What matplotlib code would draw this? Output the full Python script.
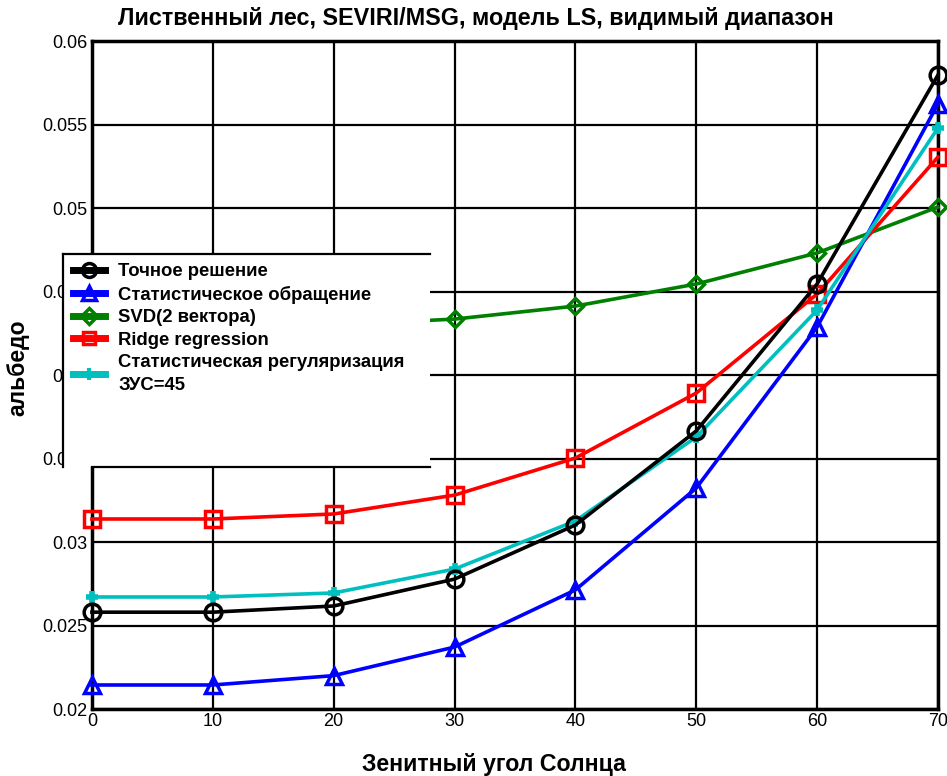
import numpy as np
import matplotlib.pyplot as plt
from matplotlib.patches import Rectangle
from matplotlib.lines import Line2D

plt.rcParams['font.family'] = ['Liberation Sans', 'DejaVu Sans']

# зенитный угол Солнца, градусы
sza = [0, 10, 20, 30, 40, 50, 60, 70]

exact = [0.0258, 0.0258, 0.02617, 0.02778, 0.03102, 0.03665, 0.04545, 0.05796]
stat_inv = [0.02144, 0.02144, 0.0220, 0.02371, 0.02713, 0.03323, 0.04287, 0.05623]
svd2 = [0.0427, 0.0428, 0.0430, 0.04335, 0.04413, 0.04545, 0.04731, 0.05006]
ridge = [0.03138, 0.03138, 0.03168, 0.03281, 0.03503, 0.03892, 0.04485, 0.05305]
stat_reg = [0.02671, 0.02671, 0.02695, 0.02838, 0.03126, 0.03629, 0.04389, 0.05479]

labels = ['Точное решение', 'Статистическое обращение', 'SVD(2 вектора)',
          'Ridge regression', 'Статистическая регуляризация\nЗУС=45']

xticks = [0, 10, 20, 30, 40, 50, 60, 70]
yticks = [0.02, 0.025, 0.03, 0.035, 0.04, 0.045, 0.05, 0.055, 0.06]

fig = plt.figure(figsize=(9.47, 7.76), dpi=100)
ax = fig.add_axes([0.0971, 0.0863, 0.8933, 0.8608])

ax.plot(sza, exact, color='black', lw=2.6, marker='o', ms=12, mfc='none', mew=2.5, clip_on=False, zorder=5)
ax.plot(sza, stat_inv, color='#0000ff', lw=2.6, marker='^', ms=11, mfc='none', mew=2.5, clip_on=False, zorder=4)
ax.plot(sza, svd2, color='#007f00', lw=2.6, marker='D', ms=8, mfc='none', mew=2.5, clip_on=False, zorder=3)
ax.plot(sza, ridge, color='#ff0000', lw=2.6, marker='s', ms=11, mfc='none', mew=2.5, clip_on=False, zorder=3)
ax.plot(sza, stat_reg, color='#00bfbf', lw=2.6, marker='+', ms=9, mew=4, clip_on=False, zorder=4)

ax.set_xlim(0, 70)
ax.set_ylim(0.02, 0.06)
ax.set_xticks(xticks)
ax.set_yticks(yticks)
ax.set_xticklabels([str(v) for v in xticks])
ax.set_yticklabels([f'{v:g}' for v in yticks])
ax.tick_params(labelsize=13, length=0, pad=3)
ax.grid(True, color='black', lw=1.6)
ax.set_axisbelow(True)
for s in ax.spines.values():
    s.set_linewidth(2.5)

fig.text(476 / 947, 1 - 19 / 776, 'Лиственный лес, SEVIRI/MSG, модель LS, видимый диапазон',
         ha='center', va='center', fontsize=16.8, fontweight='bold')
fig.text(494 / 947, 1 - 765 / 776, 'Зенитный угол Солнца', ha='center', va='center',
         fontsize=16.7, fontweight='bold')
fig.text(18 / 947, 1 - 368 / 776, 'альбедо', ha='center', va='center', rotation=90,
         fontsize=16.5, fontweight='bold')

# белая подложка легенды поверх осей и подписей
fig.patches.append(Rectangle((63 / 947, 1 - 467 / 776), 367 / 947, 213 / 776,
                             transform=fig.transFigure, facecolor='white', edgecolor='none', zorder=4))
for xs, ys in [((63, 63), (254, 467)), ((63, 430), (254, 254)), ((92, 430), (467, 467))]:
    fig.lines.append(Line2D([x / 947 for x in xs], [1 - y / 776 for y in ys],
                            transform=fig.transFigure, color='black', lw=1.6, zorder=4.5))

handles = [
    Line2D([], [], color='black', lw=5, marker='o', ms=10, mfc='none', mew=2.5),
    Line2D([], [], color='#0000ff', lw=5, marker='^', ms=10, mfc='none', mew=2.5),
    Line2D([], [], color='#007f00', lw=5, marker='D', ms=8, mfc='none', mew=2.5),
    Line2D([], [], color='#ff0000', lw=5, marker='s', ms=9, mfc='none', mew=2.5),
    Line2D([], [], color='#00bfbf', lw=5, marker='+', ms=8, mew=3),
]
leg = fig.legend(handles, labels, loc='upper left', bbox_to_anchor=(73 / 947, 1 - 263 / 776),
                 frameon=False, prop={'size': 13.3, 'weight': 'bold'}, handlelength=1.75,
                 handletextpad=0.7, labelspacing=0.3, borderaxespad=0, borderpad=0)
leg.get_texts()[4].set_linespacing(1.45)
leg.set_zorder(5)

fig.savefig('out.png', dpi=100)
